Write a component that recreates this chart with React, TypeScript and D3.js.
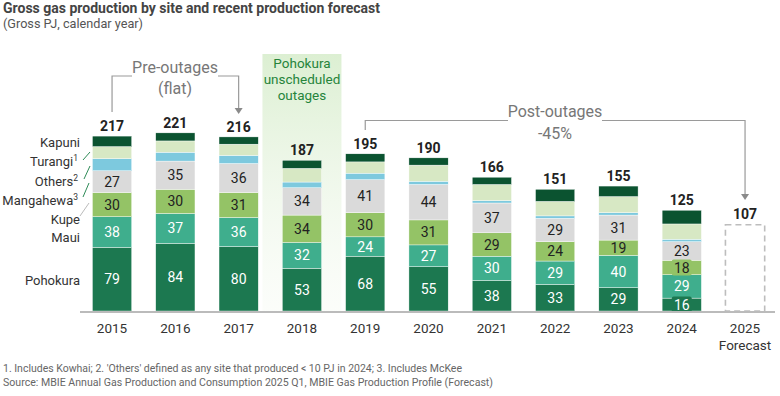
import * as d3 from "d3";

const years = ["2015", "2016", "2017", "2018", "2019", "2020", "2021", "2022", "2023", "2024"];
const forecastYear = "2025";
const forecastTotal = 107;

// bottom to top
const pohokura = [79, 84, 80, 53, 68, 55, 38, 33, 29, 16];
const maui = [38, 37, 36, 32, 24, 27, 30, 29, 40, 29];
const kupe = [30, 30, 31, 34, 30, 31, 29, 24, 19, 18];
const mangahewa = [27, 35, 36, 34, 41, 44, 37, 29, 31, 23];
const others = [15, 11, 10, 7, 8, 4, 3, 3, 3, 3];
const turangi = [15, 14, 14, 17, 14, 20, 20, 18, 20, 19];
const kapuni = [13, 10, 9, 10, 10, 9, 9, 15, 13, 17];
const totals = [217, 221, 216, 187, 195, 190, 166, 151, 155, 125];

const seriesKeys = ["Pohokura", "Maui", "Kupe", "Mangahewa", "Others", "Turangi", "Kapuni"];
const seriesValues = [pohokura, maui, kupe, mangahewa, others, turangi, kapuni];
const colors = ["#1c7850", "#3fae8d", "#94c366", "#dadada", "#7dc9de", "#d7e8c4", "#0b5330"];
const labelled = [true, true, true, true, false, false, false];
const labelText = ["#ffffff", "#ffffff", "#222222", "#222222"];

// legend: name, superscript, y position
const legendNames = ["Kapuni", "Turangi", "Others", "Mangahewa", "Kupe", "Maui", "Pohokura"];
const legendSup = ["", "1", "2", "3", "", "", ""];
const legendY = [142, 161, 181, 200, 219, 237, 280];

const footnotes = [
  "1. Includes Kowhai; 2. 'Others' defined as any site that produced < 10 PJ in 2024; 3. Includes McKee",
  "Source: MBIE Annual Gas Production and Consumption 2025 Q1, MBIE Gas Production Profile (Forecast)",
];
const footnoteLen = [459, 490];

const W = 780;
const H = 396;
const FONT = "Roboto, 'Noto Sans', sans-serif";

export default function App() {
  const x = d3
    .scaleBand<string>()
    .domain([...years, forecastYear])
    .range([72.8, 784.3])
    .paddingInner(0.38)
    .paddingOuter(0.31);
  const y = d3.scaleLinear().domain([0, 250]).range([311, 109.5]);
  const bw = x.bandwidth();

  const rows = years.map((yr, i) => {
    const r: any = { year: yr };
    seriesKeys.forEach((k, j) => (r[k] = seriesValues[j][i]));
    return r;
  });
  const stack = d3.stack<any>().keys(seriesKeys)(rows);

  const cx = (yr: string) => (x(yr) as number) + bw / 2;

  // bracket positions
  const preL = cx("2015");
  const preR = cx("2017");
  const postL = cx("2019");
  const postR = cx(forecastYear);

  return (
    <div style={{ position: "fixed", left: 0, top: 0 }}>
      <svg width={W} height={H} style={{ display: "block", background: "#fff" }} fontFamily={FONT}>
        <defs>
          <linearGradient id="hl" x1="0" y1="0" x2="0" y2="1">
            <stop offset="0%" stopColor="#dcefd2" stopOpacity={1} />
            <stop offset="100%" stopColor="#f3f9ef" stopOpacity={0.3} />
          </linearGradient>
        </defs>

        <text x={3} y={13} fontSize={14} fontWeight={700} fill="#444" textLength={377} lengthAdjust="spacingAndGlyphs">
          Gross gas production by site and recent production forecast
        </text>
        <text x={3} y={28} fontSize={13} fill="#555" textLength={140} lengthAdjust="spacingAndGlyphs">
          (Gross PJ, calendar year)
        </text>

        {/* 2018 highlight */}
        <rect x={cx("2018") - 39.5} y={54} width={79} height={257} fill="url(#hl)" />
        {["Pohokura", "unscheduled", "outages"].map((t, i) => (
          <text key={t} x={cx("2018")} y={68 + i * 16} textAnchor="middle" fontSize={13.5} fill="#26843b">
            {t}
          </text>
        ))}

        {/* bars */}
        {stack.map((s, j) =>
          s.map((d, i) => (
            <rect
              key={`${j}-${i}`}
              x={x(years[i])}
              y={y(d[1])}
              width={bw}
              height={y(d[0]) - y(d[1])}
              fill={colors[j]}
              stroke="#ffffff"
              strokeWidth={0.4}
            />
          ))
        )}
        {stack.map((s, j) =>
          labelled[j]
            ? s.map((d, i) => {
                const my = (y(d[0]) + y(d[1])) / 2;
                const v = d[1] - d[0];
                const small = y(d[0]) - y(d[1]) < 15;
                return (
                  <g key={`l${j}-${i}`}>
                    {small && <rect x={cx(years[i]) - 10} y={my - 8} width={20} height={16} rx={2} fill={colors[j]} />}
                    <text
                      x={cx(years[i])}
                      y={my}
                      dy="0.36em"
                      textAnchor="middle"
                      fontSize={14}
                      fill={labelText[j]}
                    >
                      {v}
                    </text>
                  </g>
                );
              })
            : null
        )}

        {/* totals */}
        {years.map((yr, i) => (
          <text key={yr} x={cx(yr)} y={y(totals[i]) - 5} textAnchor="middle" fontSize={14} fontWeight={700} fill="#222">
            {totals[i]}
          </text>
        ))}

        {/* forecast */}
        <rect
          x={x(forecastYear)}
          y={y(forecastTotal)}
          width={bw}
          height={y(0) - y(forecastTotal)}
          fill="none"
          stroke="#bdbdbd"
          strokeWidth={1.6}
          strokeDasharray="6 4"
        />
        <text x={cx(forecastYear)} y={y(forecastTotal) - 6} textAnchor="middle" fontSize={14} fontWeight={700} fill="#222">
          {forecastTotal}
        </text>

        {/* axis */}
        <line x1={80} x2={775} y1={y(0) + 1} y2={y(0) + 1} stroke="#bbbbbb" strokeWidth={2} />
        {[...years, forecastYear].map((yr) => (
          <text key={`x${yr}`} x={cx(yr)} y={333} textAnchor="middle" fontSize={13.5} fill="#333">
            {yr}
          </text>
        ))}
        <text x={cx(forecastYear)} y={350} textAnchor="middle" fontSize={13.5} fill="#333">
          Forecast
        </text>

        {/* legend */}
        {legendNames.map((n, i) => (
          <text key={n} x={legendSup[i] ? 78 : 80} y={legendY[i]} dy="0.36em" textAnchor="end" fontSize={13} fill="#333">
            {n}
            {legendSup[i] && (
              <tspan fontSize={8.5} dy={-5}>
                {legendSup[i]}
              </tspan>
            )}
          </text>
        ))}
        <line x1={83} y1={160} x2={90} y2={152} stroke="#2e8b57" strokeWidth={1} />
        <line x1={84} y1={179} x2={90} y2={166} stroke="#2e8b57" strokeWidth={1} />
        <line x1={83} y1={197} x2={89} y2={183} stroke="#2e8b57" strokeWidth={1} />
        <line x1={80} y1={216} x2={89} y2={203} stroke="#bbbbbb" strokeWidth={1} />

        {/* pre-outages bracket */}
        <path
          d={`M${preL},112 V76 H132 M218,76 H${preR} V109`}
          fill="none"
          stroke="#9a9a9a"
          strokeWidth={1.2}
        />
        <path d={`M${preR - 4},108 L${preR + 4},108 L${preR},114 Z`} fill="#8a8a8a" />
        <text x={175} y={73} textAnchor="middle" fontSize={16} fill="#777">
          Pre-outages
        </text>
        <text x={175} y={94} textAnchor="middle" fontSize={16} fill="#777">
          (flat)
        </text>

        {/* post-outages bracket */}
        <path
          d={`M${postL},130 V120.5 H508 M602,120.5 H${postR} V195`}
          fill="none"
          stroke="#9a9a9a"
          strokeWidth={1.2}
        />
        <path d={`M${postR - 4},194 L${postR + 4},194 L${postR},200 Z`} fill="#8a8a8a" />
        <text x={555} y={117} textAnchor="middle" fontSize={16} fill="#777">
          Post-outages
        </text>
        <text x={555} y={139} textAnchor="middle" fontSize={16} fill="#777">
          -45%
        </text>

        {/* footnotes */}
        {footnotes.map((t, i) => (
          <text
            key={i}
            x={3}
            y={372 + i * 14}
            fontSize={11.5}
            fill="#666"
            textLength={footnoteLen[i]}
            lengthAdjust="spacingAndGlyphs"
          >
            {t}
          </text>
        ))}
      </svg>
    </div>
  );
}
